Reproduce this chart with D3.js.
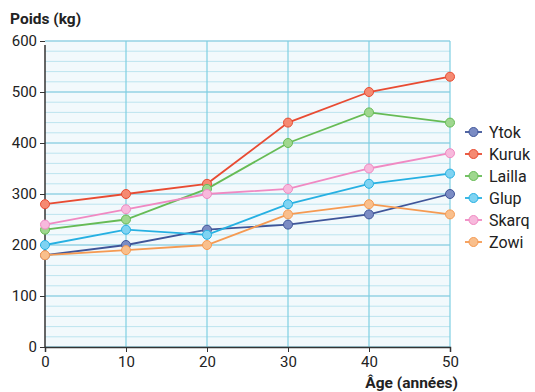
<!DOCTYPE html>
<meta charset="utf-8">
<script src="https://d3js.org/d3.v7.min.js"></script>
<style>
  body { margin: 0; background: #fff; }
  text { font-family: Roboto, "DejaVu Sans", sans-serif; fill: #222; }
</style>
<div id="chart"></div>
<script>
// data
var ages = [0, 10, 20, 30, 40, 50];
var names = ["Ytok", "Kuruk", "Lailla", "Glup", "Skarq", "Zowi"];
var ytok   = [180, 200, 230, 240, 260, 300];
var kuruk  = [280, 300, 320, 440, 500, 530];
var lailla = [230, 250, 310, 400, 460, 440];
var glup   = [200, 230, 220, 280, 320, 340];
var skarq  = [240, 270, 300, 310, 350, 380];
var zowi   = [180, 190, 200, 260, 280, 260];
var yTicks = [0, 100, 200, 300, 400, 500, 600];

var lineColors = ["#3f5599", "#e84b32", "#66bb55", "#26b0e2", "#f089c2", "#f59a52"];
var dotColors  = ["#7b8cc4", "#f58a72", "#9fd78f", "#7fd3f2", "#f7b9dc", "#f9bf8c"];

var series = [ytok, kuruk, lailla, glup, skarq, zowi];

var W = 535, H = 392;
var margin = {top: 41, right: 85, bottom: 45, left: 45};
var width = W - margin.left - margin.right,
    height = H - margin.top - margin.bottom;

var svg = d3.select("#chart").append("svg")
    .attr("width", W).attr("height", H);

var g = svg.append("g")
    .attr("transform", "translate(" + margin.left + "," + margin.top + ")");

var x = d3.scaleLinear().domain([0, 50]).range([0, width]);
var y = d3.scaleLinear().domain([0, 600]).range([height, 0]);

// plot background
g.append("rect")
    .attr("width", width).attr("height", height)
    .attr("fill", "#f2f9fc");

// minor horizontal lines every 20
g.append("g").selectAll("line")
    .data(d3.range(0, 601, 20))
    .enter().append("line")
    .attr("x1", 0).attr("x2", width)
    .attr("y1", function(d) { return y(d); })
    .attr("y2", function(d) { return y(d); })
    .attr("stroke", function(d) { return d % 100 === 0 ? "#94d2e4" : "#bde4ef"; })
    .attr("stroke-width", function(d) { return d % 100 === 0 ? 1.4 : 1; });

// vertical lines
g.append("g").selectAll("line")
    .data(ages.slice(1))
    .enter().append("line")
    .attr("y1", 0).attr("y2", height)
    .attr("x1", function(d) { return x(d); })
    .attr("x2", function(d) { return x(d); })
    .attr("stroke", "#7fcfe2").attr("stroke-width", 1.2);

// axes
var yAxis = g.append("g")
    .call(d3.axisLeft(y).tickValues(yTicks).tickSize(5).tickPadding(3));
var xAxis = g.append("g")
    .attr("transform", "translate(0," + height + ")")
    .call(d3.axisBottom(x).tickValues(ages).tickSize(5).tickPadding(4));

[xAxis, yAxis].forEach(function(a) {
    a.select(".domain").attr("stroke", "#333").attr("stroke-width", 1.5);
    a.selectAll(".tick line").attr("stroke", "#333");
    a.selectAll(".tick text")
        .style("font-size", "15px")
        .style("font-family", "Roboto, 'DejaVu Sans', sans-serif")
        .attr("fill", "#222");
});
yAxis.select(".domain").attr("d", "M0," + height + "V4");

// titles
svg.append("text")
    .attr("x", 10).attr("y", 24)
    .style("font-size", "15.5px").style("font-weight", "bold")
    .text("Poids (kg)");
svg.append("text")
    .attr("x", margin.left + width + 8).attr("y", H - 4)
    .attr("text-anchor", "end")
    .style("font-size", "15.5px").style("font-weight", "bold")
    .text("Âge (années)");

// lines and dots
var line = d3.line()
    .x(function(d, i) { return x(ages[i]); })
    .y(function(d) { return y(d); });

series.forEach(function(s, k) {
    g.append("path")
        .datum(s)
        .attr("d", line)
        .attr("fill", "none")
        .attr("stroke", lineColors[k])
        .attr("stroke-width", 1.8);
});
series.forEach(function(s, k) {
    g.append("g").selectAll("circle")
        .data(s)
        .enter().append("circle")
        .attr("cx", function(d, i) { return x(ages[i]); })
        .attr("cy", function(d) { return y(d); })
        .attr("r", 4.5)
        .attr("fill", dotColors[k])
        .attr("stroke", lineColors[k])
        .attr("stroke-width", 1);
});

// legend
var legend = svg.selectAll(".legend")
    .data(names)
    .enter().append("g")
    .attr("class", "legend")
    .attr("transform", function(d, i) { return "translate(465," + (132 + i * 22) + ")"; });

legend.append("line")
    .attr("x1", 0).attr("x2", 17)
    .attr("stroke", function(d, i) { return lineColors[i]; })
    .attr("stroke-width", 1.8);
legend.append("circle")
    .attr("cx", 8.5).attr("r", 4.5)
    .attr("fill", function(d, i) { return dotColors[i]; })
    .attr("stroke", function(d, i) { return lineColors[i]; });
legend.append("text")
    .attr("x", 24).attr("y", 5.5)
    .style("font-size", "16px")
    .text(function(d) { return d; });
</script>
